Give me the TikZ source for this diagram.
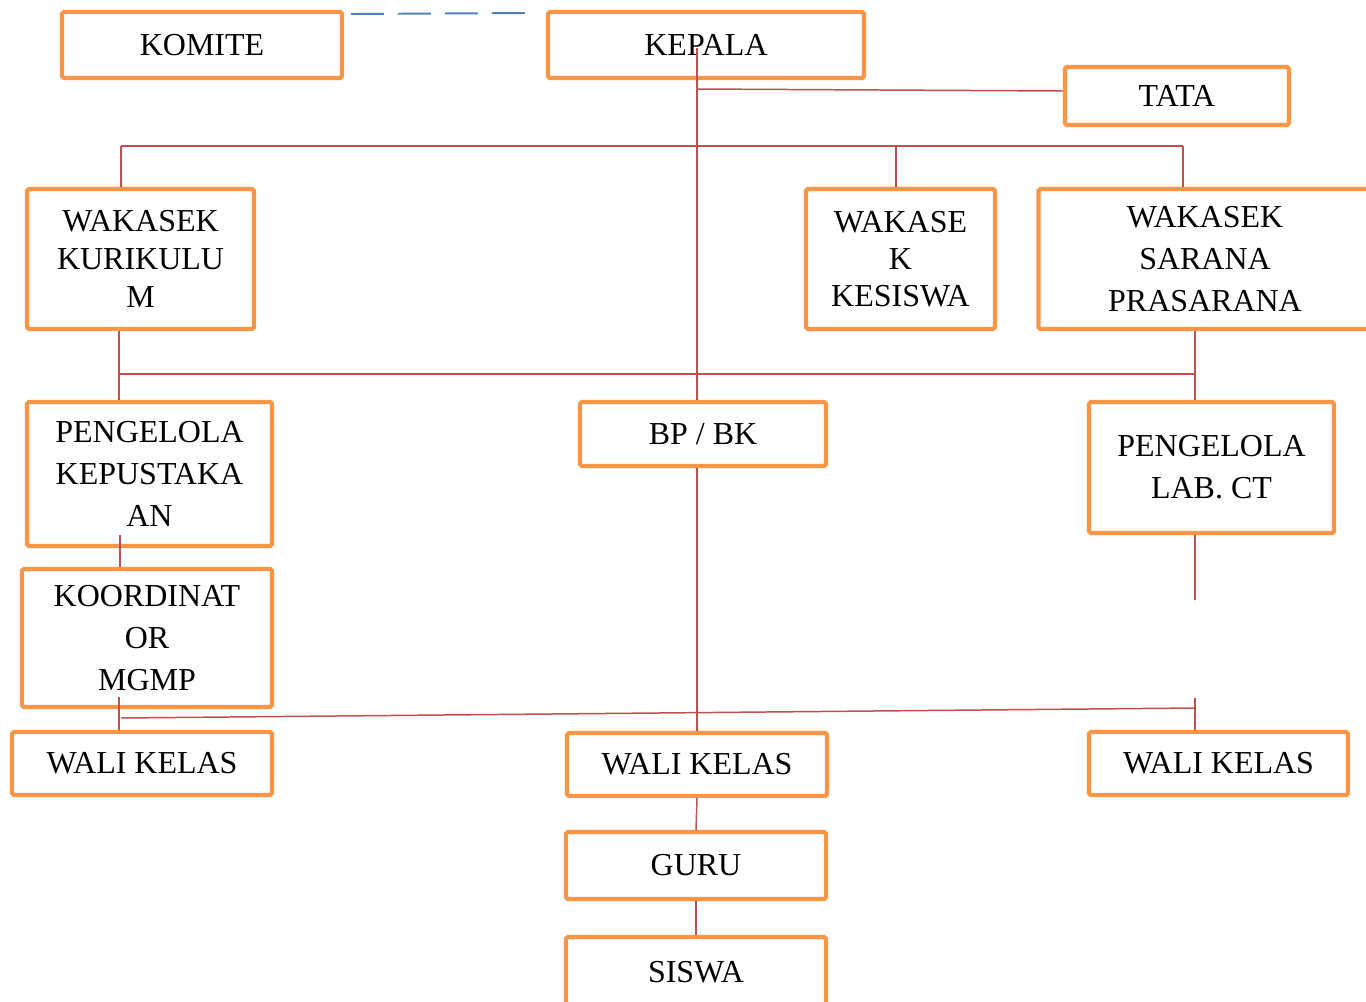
\documentclass[tikz,border=0pt]{standalone}
\usepackage{fontspec}
\setmainfont{Liberation Serif}
\usepackage{tikz}
\definecolor{boxOrange}{HTML}{F79646}
\definecolor{lineRed}{HTML}{C0504D}
\definecolor{lineBlue}{HTML}{4F81BD}
\tikzset{
  unitbox/.style={draw=boxOrange, line width=2.4pt, rounded corners=1pt, inner sep=0pt, align=center,
    font=\fontsize{18.2}{24}\selectfont},
  link/.style={draw=lineRed, line width=0.85pt},
  dashlink/.style={draw=lineBlue, line width=1.1pt, dash pattern=on 0.66cm off 0.28cm}
}

\begin{document}
\begin{tikzpicture}[x=0.02cm, y=-0.02cm]
    \useasboundingbox (0,0) rectangle (1366,1001);

    % Top row
    \node[unitbox, minimum width=5.60cm, minimum height=1.32cm] (komite) at (202,45) {KOMITE};
    \node[unitbox, minimum width=6.32cm, minimum height=1.32cm] (kepala) at (706,45) {KEPALA};
    \node[unitbox, minimum width=4.48cm, minimum height=1.16cm] (tata) at (1177,96) {TATA};

    % Wakasek row
    \node[unitbox, minimum width=4.54cm, minimum height=2.80cm, font=\fontsize{18.2}{21.5}\selectfont] (kurikulum) at (140.5,259) {WAKASEK\\KURIKULU\\M};
    \node[unitbox, minimum width=3.78cm, minimum height=2.80cm, font=\fontsize{18.2}{21}\selectfont] (kesiswaan) at (900.5,259) {WAKASE\\K\\KESISWA};
    \node[unitbox, minimum width=6.66cm, minimum height=2.80cm] (sarana) at (1205,259) {WAKASEK\\SARANA\\PRASARANA};

    % Pengelola row
    \node[unitbox, minimum width=4.90cm, minimum height=2.88cm] (pustaka) at (149.5,474) {PENGELOLA\\KEPUSTAKA\\AN};
    \node[unitbox, minimum width=4.92cm, minimum height=1.28cm] (bpbk) at (703,434) {BP / BK};
    \node[unitbox, minimum width=4.90cm, minimum height=2.62cm] (lab) at (1211.5,467.5) {PENGELOLA\\LAB. CT};
    \node[unitbox, minimum width=5.00cm, minimum height=2.76cm] (mgmp) at (147,638) {KOORDINAT\\OR\\MGMP};

    % Wali kelas row
    \node[unitbox, minimum width=5.20cm, minimum height=1.26cm] (waliA) at (142,763.5) {WALI KELAS};
    \node[unitbox, minimum width=5.20cm, minimum height=1.26cm] (waliB) at (697,764.5) {WALI KELAS};
    \node[unitbox, minimum width=5.18cm, minimum height=1.26cm] (waliC) at (1218.5,763.5) {WALI KELAS};

    % Guru and siswa
    \node[unitbox, minimum width=5.20cm, minimum height=1.34cm] (guru) at (696,865.5) {GURU};
    \node[unitbox, minimum width=5.20cm, minimum height=1.40cm] (siswa) at (696,972) {SISWA};

    % Komite - kepala
    \coordinate (dashA) at (351,14);
    \coordinate (dashB) at (527,13);
    \draw[dashlink] (dashA) -- (dashB);

    % Kepala trunk
    \coordinate (trunk) at (697,48);
    \coordinate (toTata) at (697,89);
    \draw[link] (trunk) -- (trunk |- bpbk.north);
    \draw[link] (trunk |- bpbk.south) -- (trunk |- waliB.north);
    \draw[link] (toTata) -- ([yshift=0.1cm]tata.west);
    \draw[link] (waliB.south) -- (guru.north);
    \draw[link] (guru.south) -- (siswa.north);

    % Wakasek bar
    \coordinate (barAL) at (121,146);
    \coordinate (barAR) at (1183,146);
    \draw[link] (barAL) -- (barAR);
    \draw[link] (barAL) -- (barAL |- kurikulum.north);
    \draw[link] (896,146) -- (kesiswaan.north -| 896,0);
    \draw[link] (barAR) -- (barAR |- sarana.north);

    % Pengelola bar
    \coordinate (barBL) at (119,374);
    \coordinate (barBR) at (1195,374);
    \draw[link] (barBL) -- (barBR);
    \draw[link] (barBL |- kurikulum.south) -- (barBL |- pustaka.north);
    \draw[link] (barBR |- sarana.south) -- (barBR |- lab.north);

    % Pustaka - koordinator
    \coordinate (pusDown) at (120,535);
    \draw[link] (pusDown) -- (pusDown |- mgmp.north);

    % Lab stub
    \coordinate (labEnd) at (1195,600);
    \draw[link] (labEnd |- lab.south) -- (labEnd);

    % Wali kelas bar
    \coordinate (mgmpDown) at (119,697);
    \coordinate (barCL) at (121,718);
    \coordinate (barCR) at (1195,708);
    \coordinate (waliTop) at (1195,698);
    \draw[link] (mgmpDown) -- (mgmpDown |- waliA.north);
    \draw[link] (barCL) -- (barCR);
    \draw[link] (waliTop) -- (waliTop |- waliC.north);
\end{tikzpicture}
\end{document}
